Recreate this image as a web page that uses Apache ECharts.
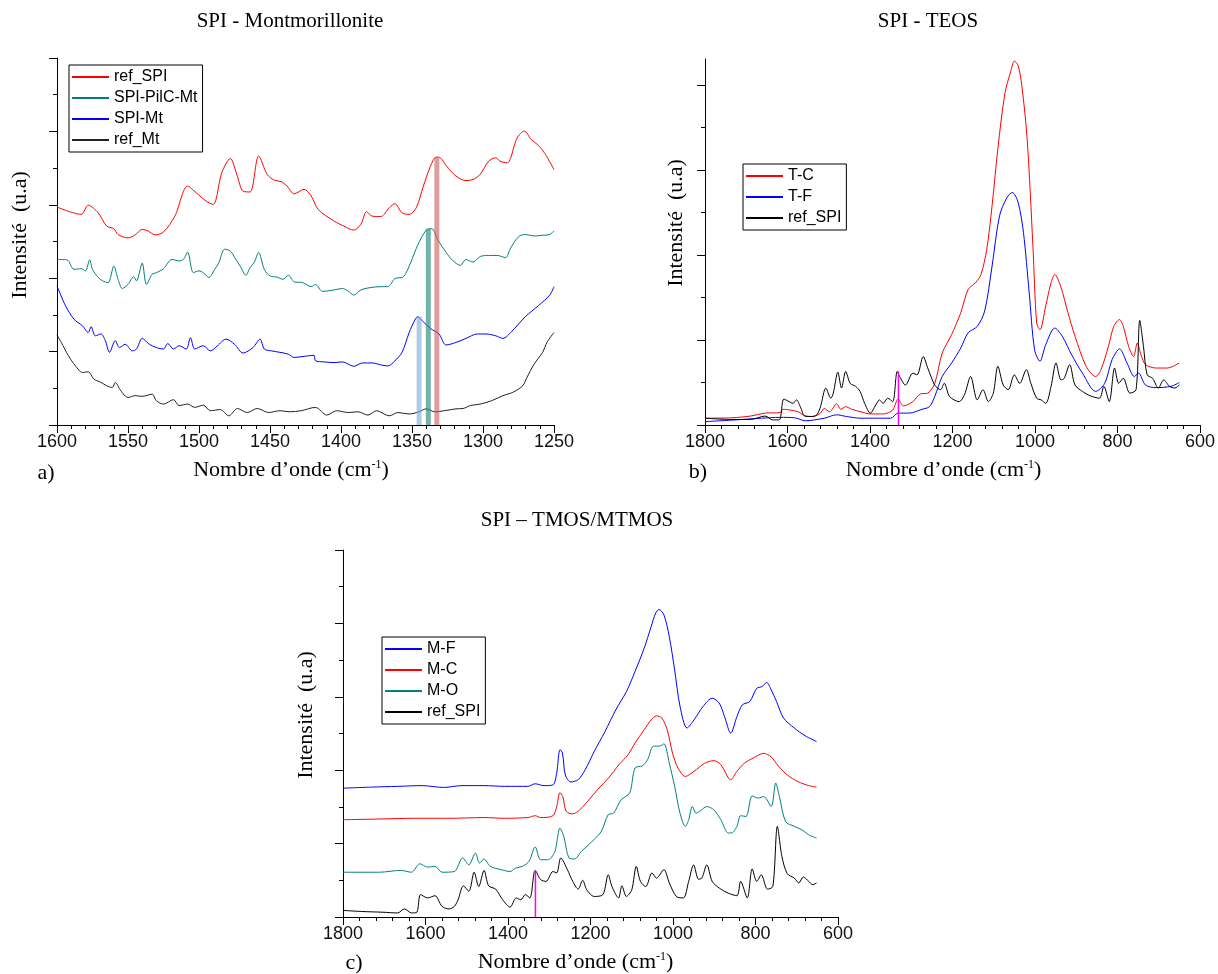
<!DOCTYPE html>
<html>
<head>
<meta charset="utf-8">
<script src="https://cdn.jsdelivr.net/npm/echarts@6/dist/echarts.min.js"></script>
<style>html,body{margin:0;padding:0;background:#fff}#c{width:1218px;height:974px}</style>
</head>
<body>
<div id="c"></div>
<script>
// ---------- Panel a: SPI - Montmorillonite (x: wavenumber, y: arbitrary intensity 0-100) ----------
const a_refSPI = [[1600,59.4],[1583,57.4],[1578,59.9],[1571,57.8],[1565,54.2],[1560,53.5],[1557,51.9],[1550,51.0],[1545,51.8],[1540,53.3],[1536,52.9],[1531,51.8],[1525,52.6],[1517,56.9],[1508,65.1],[1502,63.3],[1495,61.0],[1490,60.1],[1484,68.7],[1478,72.6],[1473,67.8],[1469,63.7],[1464,63.5],[1458,73.3],[1452,68.3],[1447,66.7],[1442,66.3],[1438,65.1],[1433,63.0],[1426,64.2],[1421,62.4],[1416,58.7],[1405,55.6],[1398,54.2],[1391,53.1],[1386,54.7],[1382,58.1],[1378,56.9],[1372,56.8],[1366,59.2],[1362,60.3],[1357,57.8],[1352,57.4],[1347,59.2],[1342,65.1],[1337,70.5],[1333,73.0],[1330,72.8],[1326,70.7],[1319,67.8],[1312,66.6],[1307,66.9],[1302,68.3],[1296,71.9],[1291,72.8],[1288,71.9],[1283,71.4],[1276,78.2],[1271,80.1],[1266,77.8],[1261,76.2],[1256,73.7],[1250,69.6]];
const a_pilcMt = [[1600,45.1],[1593,45.0],[1588,42.4],[1583,42.6],[1580,42.0],[1577,45.0],[1575,42.4],[1571,40.2],[1568,39.3],[1564,38.8],[1560,43.3],[1557,39.7],[1554,37.2],[1550,38.3],[1546,40.4],[1544,39.3],[1540,44.1],[1537,38.3],[1533,41.1],[1530,41.5],[1525,42.6],[1519,45.1],[1514,44.7],[1511,45.1],[1508,47.1],[1504,41.5],[1500,42.0],[1497,41.5],[1493,40.2],[1489,42.4],[1486,44.2],[1482,47.9],[1478,47.4],[1474,45.1],[1471,43.3],[1467,40.8],[1464,42.9],[1461,44.4],[1458,47.0],[1454,42.4],[1450,40.6],[1445,40.3],[1441,39.7],[1437,40.8],[1433,39.0],[1427,38.8],[1421,37.7],[1418,38.3],[1413,36.4],[1405,36.8],[1399,37.2],[1395,36.5],[1391,35.4],[1386,36.8],[1380,37.4],[1372,37.7],[1367,37.7],[1362,39.9],[1356,40.4],[1351,44.2],[1346,49.0],[1340,53.1],[1336,53.5],[1332,50.6],[1326,47.0],[1321,44.7],[1316,43.5],[1312,45.1],[1307,44.4],[1302,45.9],[1296,46.2],[1290,46.2],[1284,45.6],[1281,47.9],[1275,51.3],[1270,51.9],[1264,51.5],[1258,51.7],[1253,51.9],[1250,52.9]];
const a_spiMt = [[1600,37.9],[1594,32.5],[1588,28.8],[1582,27.0],[1578,25.2],[1576,26.8],[1573,24.3],[1569,24.8],[1566,23.0],[1563,19.8],[1559,23.0],[1556,21.1],[1552,22.0],[1547,20.2],[1544,20.7],[1540,23.6],[1535,22.0],[1530,21.1],[1525,20.7],[1522,22.2],[1518,20.7],[1514,21.6],[1509,20.7],[1506,23.8],[1503,20.7],[1497,21.6],[1492,20.2],[1487,21.6],[1481,23.4],[1475,22.0],[1469,19.6],[1462,21.1],[1457,23.4],[1454,20.7],[1449,20.2],[1443,19.8],[1437,19.3],[1433,18.4],[1426,18.7],[1419,19.0],[1418,17.5],[1412,17.2],[1405,17.0],[1399,17.2],[1391,16.0],[1385,16.9],[1378,16.9],[1371,16.3],[1367,16.1],[1362,17.5],[1357,19.8],[1352,25.2],[1348,28.6],[1346,29.5],[1342,28.1],[1337,26.3],[1331,24.8],[1326,21.8],[1319,22.5],[1312,23.6],[1304,24.8],[1298,24.8],[1291,24.3],[1286,23.6],[1280,25.4],[1270,29.6],[1261,32.5],[1253,35.4],[1250,37.7]];
const a_refMt = [[1600,24.5],[1597,22.5],[1592,18.9],[1587,16.1],[1582,14.3],[1578,14.5],[1574,12.5],[1569,11.6],[1565,10.7],[1561,10.2],[1559,11.6],[1555,9.3],[1550,7.5],[1545,8.0],[1540,7.8],[1533,8.4],[1530,6.6],[1525,5.7],[1518,6.9],[1514,5.3],[1508,5.7],[1503,4.8],[1497,5.4],[1492,3.9],[1485,4.2],[1479,2.5],[1473,4.5],[1466,3.4],[1459,4.5],[1451,3.4],[1443,3.9],[1436,3.6],[1428,3.9],[1418,4.8],[1410,2.7],[1403,3.9],[1395,3.4],[1388,3.6],[1381,2.7],[1375,3.9],[1366,2.5],[1360,3.4],[1352,3.0],[1345,3.6],[1340,4.4],[1334,3.6],[1327,3.9],[1319,4.4],[1314,4.5],[1309,5.3],[1302,5.7],[1294,6.6],[1286,8.0],[1279,8.9],[1272,10.7],[1269,13.0],[1264,16.6],[1258,19.8],[1255,22.5],[1250,25.2]];
// highlighted peak positions (wavenumber, height)
const a_bandBlue = [[1345,0],[1345,29.5]];
const a_bandTeal = [[1338.5,0],[1338.5,53.5]];
const a_bandRed = [[1332.5,0],[1332.5,73.0]];

// ---------- Panel b: SPI - TEOS ----------
const b_TC = [[1800,1.6],[1735,1.7],[1690,2.1],[1654,2.8],[1618,2.9],[1611,3.7],[1592,3.5],[1574,3.1],[1556,2.1],[1538,2.0],[1520,2.8],[1511,3.9],[1498,3.1],[1481,5.0],[1471,3.7],[1459,4.3],[1444,3.7],[1422,3.1],[1399,2.6],[1368,2.6],[1345,3.5],[1332,6.1],[1319,4.5],[1296,5.5],[1278,7.3],[1260,7.5],[1243,9.8],[1225,16.9],[1202,21.3],[1180,26.4],[1162,31.9],[1144,33.5],[1131,35.4],[1117,41.3],[1104,51.6],[1090,65.0],[1073,78.0],[1059,83.1],[1050,85.6],[1041,84.6],[1032,79.9],[1019,67.3],[1005,42.1],[996,24.0],[988,22.4],[974,28.0],[961,33.5],[952,35.4],[938,32.7],[920,26.4],[903,20.9],[876,13.8],[853,11.4],[840,13.0],[822,18.5],[809,23.2],[795,24.8],[786,23.2],[773,18.5],[761,16.1],[752,19.3],[743,16.5],[732,14.2],[706,13.4],[679,13.4],[650,14.6]];
const b_TF = [[1800,0.8],[1726,1.2],[1663,1.6],[1618,1.8],[1583,1.7],[1556,1.0],[1511,1.6],[1481,2.4],[1457,2.0],[1422,1.6],[1386,1.6],[1350,1.6],[1332,2.8],[1305,2.8],[1274,3.7],[1256,4.3],[1243,6.7],[1225,11.4],[1202,14.6],[1180,18.1],[1162,21.7],[1140,23.2],[1122,26.8],[1104,37.4],[1086,49.2],[1068,53.5],[1055,54.7],[1041,52.4],[1028,45.3],[1014,31.1],[1001,17.7],[988,15.0],[974,18.9],[952,22.8],[934,20.9],[911,16.5],[885,12.2],[853,7.9],[831,9.8],[813,15.4],[795,17.9],[777,14.6],[759,11.4],[749,12.2],[732,9.4],[706,8.8],[670,9.1],[650,10.0]];
const b_refSPI = [[1800,1.6],[1735,1.3],[1690,1.3],[1654,2.1],[1636,1.2],[1620,1.2],[1609,6.1],[1596,5.5],[1587,5.1],[1578,5.9],[1569,4.3],[1558,2.1],[1542,2.0],[1529,2.4],[1520,4.3],[1507,8.7],[1495,6.3],[1489,7.5],[1478,12.4],[1469,8.7],[1459,12.6],[1448,9.8],[1435,9.1],[1424,7.9],[1413,5.1],[1399,2.8],[1386,4.7],[1377,5.9],[1368,5.1],[1357,6.3],[1345,5.5],[1334,12.6],[1328,11.4],[1314,9.4],[1296,12.2],[1286,11.8],[1271,16.1],[1260,13.4],[1243,9.4],[1229,8.3],[1220,9.8],[1207,6.7],[1184,5.5],[1171,7.1],[1156,11.4],[1140,5.9],[1126,8.3],[1113,5.5],[1101,7.5],[1090,13.8],[1077,9.4],[1065,8.3],[1050,11.8],[1037,9.8],[1021,13.0],[1010,9.8],[996,6.3],[985,5.9],[974,5.1],[961,9.1],[949,14.6],[937,10.6],[929,11.0],[916,14.2],[903,9.4],[885,7.9],[867,6.9],[844,6.3],[833,9.1],[820,5.5],[807,13.4],[797,9.8],[786,11.0],[770,7.5],[755,8.3],[746,24.6],[737,18.5],[728,11.8],[715,11.0],[701,8.7],[688,10.6],[674,9.1],[661,8.7],[650,9.4]];
const b_marker = [[1331,0],[1331,12.6]];

// ---------- Panel c: SPI - TMOS/MTMOS ----------
const c_MF = [[1800,35.1],[1729,35.4],[1668,35.6],[1608,35.8],[1556,35.3],[1512,35.8],[1482,35.8],[1460,35.8],[1408,35.6],[1352,35.6],[1334,36.3],[1313,35.8],[1291,36.0],[1282,39.2],[1274,45.6],[1268,44.7],[1261,38.7],[1248,36.8],[1230,37.4],[1213,40.1],[1191,45.1],[1165,50.5],[1139,56.4],[1113,61.4],[1092,66.9],[1070,73.2],[1053,79.1],[1042,82.8],[1034,83.8],[1022,82.3],[1009,76.4],[996,67.3],[983,57.4],[966,51.5],[949,53.7],[927,57.4],[905,59.6],[888,58.3],[875,54.6],[860,50.1],[845,54.6],[832,57.8],[814,58.7],[797,62.3],[784,62.8],[773,63.9],[762,61.9],[749,58.7],[732,54.2],[706,51.5],[680,49.4],[652,47.8]];
const c_MC = [[1800,26.5],[1712,26.7],[1625,26.9],[1538,26.9],[1460,27.1],[1408,26.9],[1352,27.1],[1334,27.6],[1321,27.1],[1291,27.6],[1282,30.1],[1274,33.9],[1267,32.8],[1259,28.8],[1243,28.1],[1226,29.2],[1204,31.9],[1183,34.7],[1157,37.8],[1131,41.5],[1109,44.2],[1092,47.4],[1070,51.0],[1053,53.7],[1040,54.8],[1027,54.2],[1014,51.0],[1001,44.6],[988,40.6],[970,38.3],[949,39.7],[923,41.9],[901,42.6],[884,41.5],[860,37.4],[845,39.7],[827,41.9],[806,43.3],[780,44.6],[762,43.6],[745,41.2],[723,38.7],[697,36.9],[671,35.8],[652,35.4]];
const c_MO = [[1800,12.2],[1712,12.2],[1660,12.7],[1634,12.2],[1614,14.5],[1595,13.6],[1577,13.8],[1560,12.2],[1530,12.4],[1510,16.1],[1495,14.2],[1479,17.4],[1469,14.7],[1458,15.8],[1443,13.8],[1417,12.9],[1395,12.4],[1382,13.3],[1365,13.8],[1349,15.2],[1334,19.1],[1321,15.6],[1304,15.6],[1287,17.6],[1274,24.2],[1265,22.0],[1252,16.1],[1239,15.8],[1222,17.9],[1196,20.6],[1174,23.3],[1157,27.9],[1144,28.3],[1126,31.9],[1105,33.8],[1092,40.6],[1074,41.2],[1061,43.0],[1048,46.5],[1031,46.6],[1022,47.2],[1009,41.9],[996,35.6],[983,28.3],[970,24.7],[962,26.5],[953,30.1],[944,28.3],[936,28.7],[918,30.1],[901,29.2],[884,26.5],[866,22.9],[858,22.9],[845,24.7],[836,27.6],[823,27.4],[808,33.0],[794,32.4],[780,32.8],[762,30.1],[751,36.5],[742,32.8],[727,26.0],[706,24.7],[688,23.8],[671,22.4],[652,21.5]];
const c_refSPI = [[1800,1.8],[1755,1.5],[1703,1.3],[1668,1.1],[1651,2.2],[1634,1.1],[1621,1.3],[1612,6.1],[1595,5.2],[1577,5.8],[1560,2.9],[1543,2.2],[1530,2.9],[1521,4.7],[1508,8.5],[1495,7.0],[1482,12.2],[1471,8.3],[1458,12.7],[1447,8.5],[1430,7.6],[1413,4.7],[1395,2.7],[1380,5.2],[1369,4.7],[1358,6.1],[1347,5.2],[1334,12.7],[1321,10.2],[1308,9.7],[1291,12.4],[1282,12.0],[1272,16.1],[1256,12.9],[1243,9.7],[1230,7.6],[1219,10.0],[1209,7.4],[1191,5.6],[1170,6.1],[1157,11.5],[1148,8.3],[1132,5.2],[1124,8.5],[1113,5.6],[1100,7.4],[1089,13.8],[1079,9.7],[1066,8.3],[1051,12.0],[1040,10.6],[1022,12.9],[1009,9.3],[992,5.6],[975,5.2],[962,9.7],[950,14.2],[938,10.3],[930,10.6],[918,14.2],[905,9.7],[888,7.9],[866,6.5],[845,5.8],[836,9.7],[820,5.2],[808,13.1],[797,9.7],[786,11.5],[771,7.6],[758,8.3],[747,24.7],[736,16.5],[723,11.8],[706,10.6],[695,9.3],[684,10.9],[671,9.7],[661,8.8],[652,9.3]];
const c_marker = [[1333.5,0],[1333.5,12.7]];

// ---------- labels & ticks ----------
const titles = ['SPI - Montmorillonite', 'SPI - TEOS', 'SPI \u2013 TMOS/MTMOS'];
const panelLetters = ['a)', 'b)', 'c)'];
const xName = '{t|Nombre d\u2019onde (cm}{s|-1}{t|)}';
const yName = 'Intensit\u00e9  (u.a)';
const a_ticksX = {min: 1250, max: 1600, interval: 50};
const bc_ticksX = {min: 600, max: 1800, interval: 200};
const a_minorX = [1260,1270,1280,1290,1310,1320,1330,1340,1360,1370,1380,1390,1410,1420,1430,1440,1460,1470,1480,1490,1510,1520,1530,1540,1560,1570,1580,1590];
const bc_minorX = [640,680,720,760,840,880,920,960,1040,1080,1120,1160,1240,1280,1320,1360,1440,1480,1520,1560,1640,1680,1720,1760];
const yMajor = [0, 20, 40, 60, 80, 100];
const yMinor = [10, 30, 50, 70, 90];

const legendNames = {
  'a_ref_SPI': 'ref_SPI', 'a_SPI-PilC-Mt': 'SPI-PilC-Mt', 'a_SPI-Mt': 'SPI-Mt', 'a_ref_Mt': 'ref_Mt',
  'b_T-C': 'T-C', 'b_T-F': 'T-F', 'b_ref_SPI': 'ref_SPI',
  'c_M-F': 'M-F', 'c_M-C': 'M-C', 'c_M-O': 'M-O', 'c_ref_SPI': 'ref_SPI'
};

const SERIF = 'Liberation Serif, Times New Roman, serif';
const SANS = 'Liberation Sans, Arial, sans-serif';
const RED = '#ff0000', TEAL = '#008080', BLUE = '#0000ff', BLACK = '#000000';

const chart = echarts.init(document.getElementById('c'), null, {renderer: 'canvas'});

const grids = [
  {left: 57, top: 58, width: 497, height: 367},
  {left: 705, top: 59, width: 496, height: 366},
  {left: 343, top: 550, width: 495, height: 367}
];
const yMax = [100, 86.1, 100];
const xNamePad = [29, 18, 30];
const yNameGap = [26, 18, 26];
const yNamePad = [13, 38, 37];

function xAxesFor(i, t, minor) {
  const base = {type: 'value', gridIndex: i, inverse: true, min: t.min, max: t.max, interval: t.interval,
    position: 'bottom', offset: 0, splitLine: {show: false}};
  return [
    Object.assign({}, base, {
      axisLine: {show: true, onZero: false, lineStyle: {color: '#000', width: 1}},
      axisTick: {show: true, length: 8, inside: false, lineStyle: {color: '#000'}},
      axisLabel: {show: true, fontFamily: SANS, fontSize: 18, color: '#111', margin: 8,
        formatter: v => String(v)},
      name: xName, nameLocation: 'middle', nameGap: 34,
      nameTextStyle: {padding: [0, xNamePad[i], 0, 0],
        rich: {t: {fontFamily: SERIF, fontSize: 22, color: '#000'},
               s: {fontFamily: SERIF, fontSize: 12, color: '#000', verticalAlign: 'top', padding: [0, 0, 8, 0]}}}
    }),
    Object.assign({}, base, {
      axisLine: {show: false, onZero: false},
      axisLabel: {show: false},
      axisTick: {show: true, length: 4, customValues: minor, lineStyle: {color: '#000'}}
    })
  ];
}
function yAxesFor(i) {
  const base = {type: 'value', gridIndex: i, min: 0, max: yMax[i], position: 'left', offset: 0,
    splitLine: {show: false}, axisLabel: {show: false}};
  return [
    Object.assign({}, base, {
      axisLine: {show: true, onZero: false, lineStyle: {color: '#000', width: 1}},
      axisTick: {show: true, length: 8, customValues: yMajor.filter(v => v <= yMax[i]), lineStyle: {color: '#000'}},
      name: yName, nameLocation: 'middle', nameGap: yNameGap[i],
      nameTextStyle: {fontFamily: SERIF, fontSize: 22, color: '#000', padding: [0, 0, 0, yNamePad[i]]}
    }),
    Object.assign({}, base, {
      axisLine: {show: false, onZero: false},
      axisTick: {show: true, length: 4, customValues: yMinor.filter(v => v <= yMax[i]), lineStyle: {color: '#000'}}
    })
  ];
}

function line(name, data, color, gi, width) {
  return {
    name: name, type: 'line', data: data, xAxisIndex: gi * 2, yAxisIndex: gi * 2,
    showSymbol: false, symbol: 'none', animation: false, silent: true, smooth: 0.3,
    lineStyle: {color: color, width: width || 1}, itemStyle: {color: color}
  };
}
function bar(data, color, gi, width) {
  return {
    type: 'line', data: data, xAxisIndex: gi * 2, yAxisIndex: gi * 2, symbol: 'none',
    animation: false, silent: true, lineStyle: {color: color, width: width}, z: 3
  };
}

function legendFor(left, top, names) {
  return {
    left: left, top: top, orient: 'vertical', data: names, icon: 'rect',
    itemWidth: 37, itemHeight: 2, itemGap: 3, selectedMode: false,
    borderColor: '#000', borderWidth: 1, borderRadius: 0, padding: [3, 5, 3, 3],
    textStyle: {fontFamily: SANS, fontSize: 16, color: '#000', lineHeight: 18},
    formatter: n => legendNames[n]
  };
}

function txt(x, y, text, size) {
  return {type: 'text', x: x, y: y, silent: true,
    style: {text: text, fontFamily: SERIF, fontSize: size, fill: '#000',
      textAlign: 'center', textVerticalAlign: 'middle', align: 'center', verticalAlign: 'middle'}};
}

const option = {
  backgroundColor: '#fff',
  animation: false,
  grid: grids,
  xAxis: [].concat(xAxesFor(0, a_ticksX, a_minorX), xAxesFor(1, bc_ticksX, bc_minorX), xAxesFor(2, bc_ticksX, bc_minorX)),
  yAxis: [].concat(yAxesFor(0), yAxesFor(1), yAxesFor(2)),
  legend: [
    legendFor(69, 65, ['a_ref_SPI', 'a_SPI-PilC-Mt', 'a_SPI-Mt', 'a_ref_Mt']),
    legendFor(743, 164, ['b_T-C', 'b_T-F', 'b_ref_SPI']),
    legendFor(382, 637, ['c_M-F', 'c_M-C', 'c_M-O', 'c_ref_SPI'])
  ],
  graphic: [
    txt(290, 21, titles[0], 21),
    txt(928, 21, titles[1], 21),
    txt(577, 520, titles[2], 21),
    txt(46, 473, panelLetters[0], 22),
    txt(698, 472, panelLetters[1], 22),
    txt(354, 963, panelLetters[2], 22)
  ],
  series: [
    line('a_ref_SPI', a_refSPI, RED, 0),
    line('a_SPI-PilC-Mt', a_pilcMt, TEAL, 0),
    line('a_SPI-Mt', a_spiMt, BLUE, 0),
    line('a_ref_Mt', a_refMt, '#222', 0),
    bar(a_bandBlue, 'rgba(120,170,220,0.6)', 0, 5),
    bar(a_bandTeal, 'rgba(40,140,125,0.65)', 0, 5),
    bar(a_bandRed, 'rgba(200,90,90,0.6)', 0, 5),
    line('b_T-C', b_TC, RED, 1),
    line('b_T-F', b_TF, BLUE, 1),
    line('b_ref_SPI', b_refSPI, BLACK, 1),
    bar(b_marker, '#ff00ff', 1, 1.5),
    line('c_M-F', c_MF, BLUE, 2),
    line('c_M-C', c_MC, RED, 2),
    line('c_M-O', c_MO, TEAL, 2),
    line('c_ref_SPI', c_refSPI, BLACK, 2),
    bar(c_marker, '#ff00ff', 2, 1.5)
  ]
};
chart.setOption(option);
</script>
</body>
</html>
